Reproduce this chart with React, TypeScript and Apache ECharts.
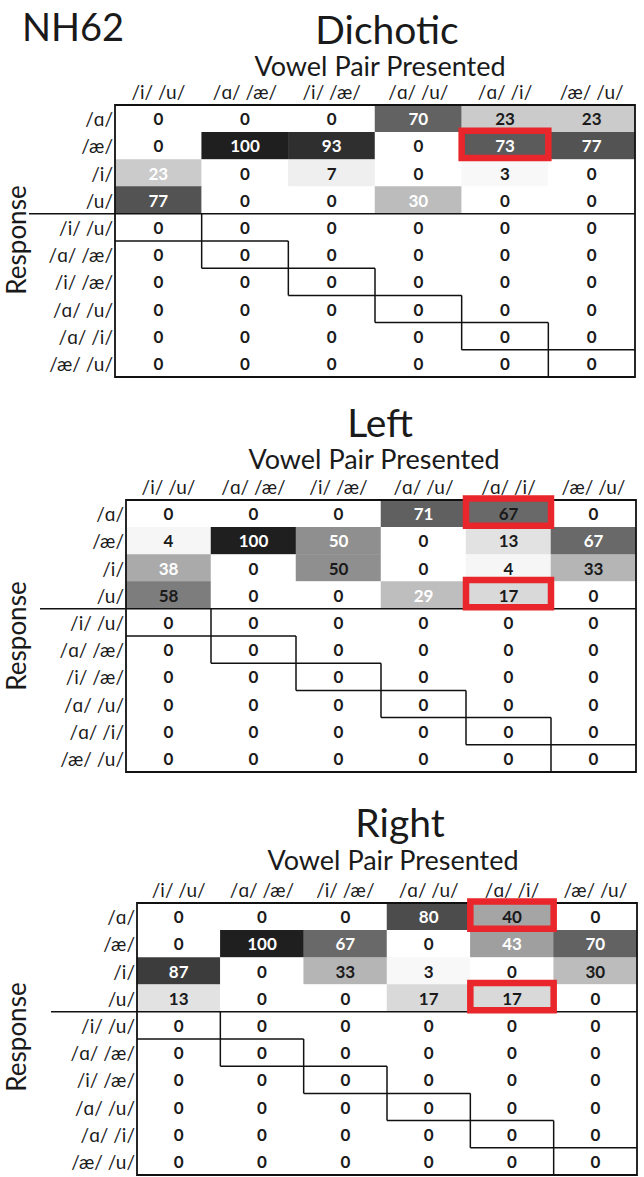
import React, { useEffect, useRef } from "react";
import * as echarts from "echarts";

const rowLabels = ["/ɑ/", "/æ/", "/i/", "/u/", "/i/ /u/", "/ɑ/ /æ/", "/i/ /æ/", "/ɑ/ /u/", "/ɑ/ /i/", "/æ/ /u/"];
const colLabels = ["/i/ /u/", "/ɑ/ /æ/", "/i/ /æ/", "/ɑ/ /u/", "/ɑ/ /i/", "/æ/ /u/"];

const dichoticValues = [
  [0, 0, 0, 70, 23, 23],
  [0, 100, 93, 0, 73, 77],
  [23, 0, 7, 0, 3, 0],
  [77, 0, 0, 30, 0, 0],
  [0, 0, 0, 0, 0, 0],
  [0, 0, 0, 0, 0, 0],
  [0, 0, 0, 0, 0, 0],
  [0, 0, 0, 0, 0, 0],
  [0, 0, 0, 0, 0, 0],
  [0, 0, 0, 0, 0, 0],
];
const leftValues = [
  [0, 0, 0, 71, 67, 0],
  [4, 100, 50, 0, 13, 67],
  [38, 0, 50, 0, 4, 33],
  [58, 0, 0, 29, 17, 0],
  [0, 0, 0, 0, 0, 0],
  [0, 0, 0, 0, 0, 0],
  [0, 0, 0, 0, 0, 0],
  [0, 0, 0, 0, 0, 0],
  [0, 0, 0, 0, 0, 0],
  [0, 0, 0, 0, 0, 0],
];
const rightValues = [
  [0, 0, 0, 80, 40, 0],
  [0, 100, 67, 0, 43, 70],
  [87, 0, 33, 3, 0, 30],
  [13, 0, 0, 17, 17, 0],
  [0, 0, 0, 0, 0, 0],
  [0, 0, 0, 0, 0, 0],
  [0, 0, 0, 0, 0, 0],
  [0, 0, 0, 0, 0, 0],
  [0, 0, 0, 0, 0, 0],
  [0, 0, 0, 0, 0, 0],
];

// cells whose number is printed in white: [row, col]
const dichoticWhite = [[1, 1], [1, 2], [0, 3], [1, 4], [1, 5], [2, 0], [3, 0], [3, 3]];
const leftWhite = [[0, 3], [1, 1], [1, 2], [1, 5], [2, 0], [3, 3]];
const rightWhite = [[0, 3], [1, 1], [1, 2], [1, 4], [1, 5], [2, 0]];

// highlighted cells: [col, row]
const dichoticRed = [[4, 1]];
const leftRed = [[4, 0], [4, 3]];
const rightRed = [[4, 0], [4, 3]];

// correct-answer diagonal cells in the lower block: [col, row]
const diagonalCells = [[0, 4], [1, 5], [2, 6], [3, 7], [4, 8], [5, 9]];

const panelTitles = ["Dichotic", "Left", "Right"];
const FONT = "Lato, 'Noto Sans', 'DejaVu Sans', sans-serif";

const panels = [
  { title: panelTitles[0], values: dichoticValues, white: dichoticWhite, red: dichoticRed,
    left: 115, top: 105, width: 520, height: 272, titleX: 387, titleY: 29, vppX: 380, vppY: 65, respY: 240 },
  { title: panelTitles[1], values: leftValues, white: leftWhite, red: leftRed,
    left: 126, top: 500, width: 510, height: 272, titleX: 380, titleY: 422, vppX: 374, vppY: 458, respY: 636 },
  { title: panelTitles[2], values: rightValues, white: rightWhite, red: rightRed,
    left: 137, top: 903, width: 500, height: 272, titleX: 400, titleY: 822, vppX: 393, vppY: 859, respY: 1037 },
];

export default function App() {
  const ref = useRef<HTMLDivElement>(null);
  useEffect(() => {
    document.body.style.margin = "0";
    if (!ref.current) return;
    const chart = echarts.init(ref.current, null, { renderer: "svg" });

    const grids: any[] = [];
    const xAxes: any[] = [];
    const yAxes: any[] = [];
    const heatSeries: any[] = [];
    const lineSeries: any[] = [];
    const graphics: any[] = [
      { type: "text", left: 22, top: 7, style: { text: "NH62", font: `38px ${FONT}`, fill: "#1a1a1a" } },
    ];

    panels.forEach((p, i) => {
      grids.push({ left: p.left, top: p.top, width: p.width, height: p.height, show: false });
      xAxes.push({
        type: "category", gridIndex: i, data: colLabels, position: "top",
        axisLine: { show: false }, axisTick: { show: false }, splitLine: { show: false },
        axisLabel: { interval: 0, margin: 4, fontSize: 19, color: "#1a1a1a", fontFamily: FONT },
      });
      yAxes.push({
        type: "category", gridIndex: i, data: rowLabels, inverse: true,
        axisLine: { show: false }, axisTick: { show: false }, splitLine: { show: false },
        axisLabel: { interval: 0, margin: 2, fontSize: 19, color: "#1a1a1a", fontFamily: FONT },
      });
      const whiteSet = new Set(p.white.map((w) => `${w[0]}-${w[1]}`));
      const data: any[] = [];
      p.values.forEach((row, r) => {
        row.forEach((v, c) => {
          data.push({
            value: [c, r, v],
            label: { color: whiteSet.has(`${r}-${c}`) ? "#ffffff" : "#1a1a1a" },
          });
        });
      });
      heatSeries.push({
        type: "heatmap", xAxisIndex: i, yAxisIndex: i, data,
        itemStyle: { borderWidth: 0 },
        label: {
          show: true, fontSize: 17, fontWeight: "bold", fontFamily: FONT,
          formatter: (d: any) => String(d.value[2]),
        },
        emphasis: { disabled: true },
        z: 2,
      });
      // staircase, separator and frame
      lineSeries.push({
        type: "custom", xAxisIndex: i, yAxisIndex: i, clip: false, z: 5, silent: true,
        encode: { x: 0, y: 1 },
        data: diagonalCells,
        renderItem: (params: any, api: any) => {
          const c = api.value(0);
          const r = api.value(1);
          const pt = api.coord([c, r]);
          const sz = api.size([1, 1]);
          const w = sz[0], h = sz[1];
          const L = pt[0] - w / 2, T = pt[1] - h / 2, R = pt[0] + w / 2, B = pt[1] + h / 2;
          const cs = params.coordSys;
          const gR = cs.x + cs.width, gB = cs.y + cs.height;
          const st = { stroke: "#111", lineWidth: 1.5 };
          const children: any[] = [];
          if (params.dataIndex < diagonalCells.length - 1) {
            children.push({ type: "line", shape: { x1: L, y1: B, x2: Math.min(R + w, gR), y2: B }, style: st });
            children.push({ type: "line", shape: { x1: R, y1: T, x2: R, y2: Math.min(B + h, gB) }, style: st });
          }
          if (params.dataIndex === 0) {
            children.push({ type: "line", shape: { x1: cs.x - 86, y1: T, x2: gR, y2: T }, style: st });
            children.push({ type: "rect", shape: { x: cs.x, y: cs.y, width: cs.width, height: cs.height },
              style: { fill: "none", stroke: "#111", lineWidth: 1.8 } });
          }
          return { type: "group", children };
        },
      });
      lineSeries.push({
        type: "custom", xAxisIndex: i, yAxisIndex: i, clip: false, z: 6, silent: true,
        encode: { x: 0, y: 1 },
        data: p.red,
        renderItem: (params: any, api: any) => {
          const pt = api.coord([api.value(0), api.value(1)]);
          const sz = api.size([1, 1]);
          return {
            type: "rect",
            shape: { x: pt[0] - sz[0] / 2, y: pt[1] - sz[1] / 2 - 1.5, width: sz[0], height: sz[1] },
            style: { fill: "none", stroke: "#e8262b", lineWidth: 6.5 },
          };
        },
      });
      graphics.push({ type: "text", x: p.titleX, y: p.titleY,
        style: { text: p.title, font: `39px ${FONT}`, fill: "#1a1a1a", textAlign: "center", textVerticalAlign: "middle" } });
      graphics.push({ type: "text", x: p.vppX, y: p.vppY,
        style: { text: "Vowel Pair Presented", font: `27px ${FONT}`, fill: "#1a1a1a", textAlign: "center", textVerticalAlign: "middle" } });
      graphics.push({ type: "text", x: 16, y: p.respY, rotation: Math.PI / 2,
        style: { text: "Response", font: `26px ${FONT}`, fill: "#1a1a1a", textAlign: "center", textVerticalAlign: "middle" } });
    });

    chart.setOption({
      animation: false,
      backgroundColor: "#ffffff",
      grid: grids,
      xAxis: xAxes,
      yAxis: yAxes,
      visualMap: {
        type: "continuous", show: false, min: 0, max: 100, dimension: 2,
        seriesIndex: [0, 1, 2],
        inRange: { color: ["#ffffff", "#1f1f1f"] },
      },
      series: [...heatSeries, ...lineSeries],
      graphic: graphics,
    });
    return () => chart.dispose();
  }, []);
  return <div ref={ref} style={{ width: 644, height: 1177 }} />;
}
